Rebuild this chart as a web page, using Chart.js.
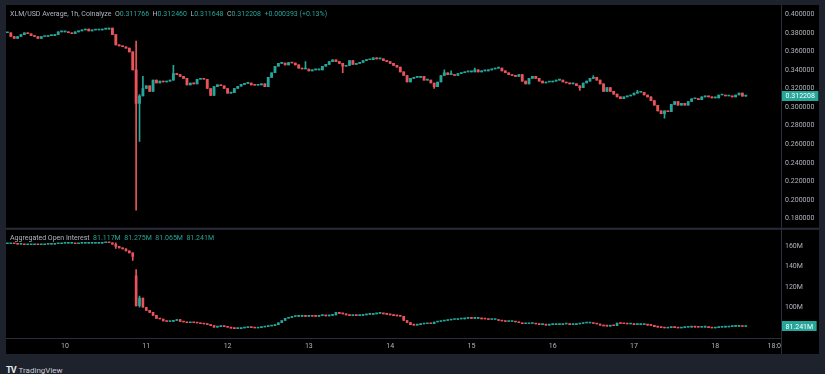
<!DOCTYPE html>
<html>
<head>
<meta charset="utf-8">
<script src="https://cdn.jsdelivr.net/npm/chart.js@4.4.0/dist/chart.umd.min.js"></script>
<style>
    html, body { margin: 0; padding: 0; width: 825px; height: 374px; overflow: hidden; background: #1e222d; }
    #pane { position: absolute; left: 6px; top: 5px; width: 813px; height: 349px; background: #000; }
    #logo { position: absolute; left: 6px; top: 358px; font-family: Roboto, sans-serif; color: #c9ccd4; white-space: nowrap; }
    #logo b { font-size: 9px; color: #e6e8ee; letter-spacing: -1px; margin-right: 3px; }
    #logo span { font-size: 8px; }
</style>
</head>
<body>
<div id="pane"><canvas id="chart" width="813" height="349"></canvas></div>
<div id="logo"><b>TV</b><span>TradingView</span></div>
<script>
// Hours are counted from the 10th, 00:00; first candle is 17h earlier
const FIRST_HOUR = -17;

// XLM/USD hourly closes (opens = previous close)
const priceClose = [
    0.380, 0.376, 0.374, 0.376, 0.378, 0.380, 0.379, 0.377, 0.376, 0.374, 0.376, 0.376, 0.377, 0.377, 0.378, 0.381, 0.381,
    // 10th
    0.381, 0.380, 0.379, 0.381, 0.382, 0.383, 0.384, 0.382, 0.383, 0.383, 0.383, 0.384,
    0.384, 0.385, 0.378, 0.367, 0.366, 0.365, 0.3635, 0.3595, 0.340, 0.304, 0.312, 0.320,
    // 11th
    0.323, 0.317, 0.329, 0.326, 0.328, 0.327, 0.328, 0.329, 0.336, 0.335, 0.333, 0.331,
    0.324, 0.326, 0.325, 0.330, 0.331, 0.330, 0.320, 0.3125, 0.322, 0.324, 0.323, 0.320,
    // 12th
    0.315, 0.3155, 0.320, 0.3225, 0.3245, 0.3255, 0.326, 0.324, 0.3235, 0.324, 0.325, 0.322,
    0.332, 0.337, 0.344, 0.347, 0.3475, 0.3455, 0.348, 0.3475, 0.3455, 0.342, 0.341, 0.341,
    // 13th
    0.339, 0.340, 0.340, 0.340, 0.344, 0.346, 0.349, 0.351, 0.349, 0.347, 0.344, 0.345,
    0.350, 0.346, 0.347, 0.348, 0.350, 0.351, 0.351, 0.353, 0.352, 0.352, 0.350, 0.349,
    // 14th
    0.347, 0.345, 0.343, 0.338, 0.334, 0.327, 0.331, 0.332, 0.332, 0.333, 0.329, 0.329,
    0.326, 0.322, 0.327, 0.334, 0.337, 0.335, 0.335, 0.334, 0.336, 0.337, 0.338, 0.338,
    // 15th
    0.338, 0.340, 0.338, 0.339, 0.339, 0.340, 0.341, 0.342, 0.342, 0.339, 0.337, 0.335,
    0.334, 0.333, 0.335, 0.328, 0.325, 0.331, 0.333, 0.331, 0.328, 0.326, 0.327, 0.327,
    // 16th
    0.328, 0.329, 0.329, 0.327, 0.326, 0.325, 0.325, 0.323, 0.321, 0.326, 0.328, 0.331,
    0.332, 0.329, 0.325, 0.317, 0.321, 0.317, 0.314, 0.311, 0.309, 0.311, 0.312, 0.313,
    // 17th
    0.315, 0.316, 0.316, 0.313, 0.311, 0.307, 0.302, 0.296, 0.293, 0.296, 0.295, 0.303,
    0.306, 0.302, 0.304, 0.302, 0.306, 0.309, 0.309, 0.308, 0.311, 0.312, 0.311, 0.310,
    // 18th
    0.310, 0.313, 0.313, 0.312, 0.312, 0.311, 0.313, 0.315, 0.311815, 0.312208
];

// [hour, low, high] for candles with visible wicks
const priceWicks = [
    [21, 0.189, 0.371], [22, 0.263, 0.3135], [23, 0.312, 0.333], [32, 0.329, 0.345],
    [71, 0.341, 0.349], [82, 0.337, 0.347], [109, 0.320, 0.326], [112, 0.334, 0.340],
    [114, 0.335, 0.339], [121, 0.338, 0.342], [152, 0.318, 0.323], [156, 0.331, 0.334],
    [169, 0.315, 0.318], [177, 0.288, 0.296], [201, 0.311648, 0.31246]
];

// Aggregated open interest, millions, hourly closes
const oiClose = [
    162.5, 163, 162.5, 162, 162, 161.5, 161.5, 161.5, 162, 161.5, 161.5, 162, 162, 162, 162.5, 162.5, 163,
    // 10th
    163, 163, 163, 162.5, 163, 163, 163, 163, 163, 163, 163, 163.5,
    164, 163.5, 162, 160, 158.5, 157.5, 155.5, 153.5, 150, 101.5, 109, 100,
    // 11th
    97, 95, 92, 89, 88.5, 86.5, 86, 86.2, 87, 88, 86.2, 85.5,
    84.8, 85, 84.8, 84.5, 83.8, 83.5, 83, 82, 80.5, 81, 81.6, 81,
    // 12th
    80.3, 79.5, 79, 79, 79.6, 80, 80.3, 80, 79.6, 80, 80.6, 81,
    81.6, 82, 83, 84.8, 87, 89.2, 90, 90.9, 91, 91, 91.2, 91,
    // 13th
    91.5, 91.2, 91, 91.8, 92, 91.5, 92, 92.5, 95, 94, 93.5, 92.5,
    91.8, 92, 91.8, 92, 92.5, 93, 93, 93.5, 94, 94, 93.5, 93,
    // 14th
    92.5, 91.8, 91.5, 91.2, 87, 85, 82.9, 82.5, 82.9, 83.5, 83.8, 84,
    83.8, 85.5, 86, 86.5, 87, 87.5, 88, 88, 88.5, 88.6, 89, 89.2,
    // 15th
    89, 89, 89, 88.6, 88.5, 88, 88, 88, 87, 86.5, 86, 86,
    86, 85.5, 84.8, 83.8, 83.8, 84, 84, 83.5, 83, 83, 82.5, 83,
    // 16th
    83, 83, 83, 83.5, 83.5, 83, 83, 83.5, 84, 84.5, 84.5, 84.5,
    84, 83.5, 82.5, 81.6, 81.5, 82.2, 81.8, 84.5, 84, 83.8, 83.5, 83.5,
    // 17th
    83, 83, 83, 83, 82.5, 82.2, 81, 80.5, 80, 79.6, 80, 80.6,
    80, 79.6, 80, 80.3, 80.5, 80.6, 80.5, 80.3, 80.5, 80.6, 80, 79.6,
    // 18th
    80, 80.3, 80.5, 80.6, 81, 81.2, 81.2, 81.2, 81.117, 81.241
];
const oiWicks = [[15, 158, 163.5], [20, 146, 153.5], [21, 101, 137], [22, 100, 111], [201, 81.065, 81.275]];
const oiOpenFix = [[21, 131]];

// Axis ticks
const priceTicks = [0.18, 0.20, 0.22, 0.24, 0.26, 0.28, 0.30, 0.32, 0.34, 0.36, 0.38, 0.40];
const oiTicks = [100, 120, 140, 160];
const dayHours = [0, 24, 48, 72, 96, 120, 144, 168, 192, 210];
const dayLabels = ['10', '11', '12', '13', '14', '15', '16', '17', '18', '18:00'];

// Legend texts
const priceTitle = 'XLM/USD Average, 1h, Coinalyze';
const priceOhlc = [['O', '0.311766'], ['H', '0.312460'], ['L', '0.311648'], ['C', '0.312208'], ['', '+0.000393 (+0.13%)']];
const oiTitle = 'Aggregated Open Interest';
const oiOhlc = ['81.117M', '81.275M', '81.065M', '81.241M'];

const UP = '#26a69a';
const DOWN = '#e8545a';
const TEXT = '#b2b5be';
const LINE = '#2a2e39';

Chart.defaults.font.family = 'Roboto, sans-serif';
Chart.defaults.font.size = 7;

/**
 * Turn a list of closes into candle records
 */
function buildCandles(closes, wicks, openFix) {
    return closes.map((c, i) => {
        const h = FIRST_HOUR + i;
        let o = i > 0 ? closes[i - 1] : c;
        const fix = openFix.find(f => f[0] === h);
        if (fix) o = fix[1];
        let lo = Math.min(o, c);
        let hi = Math.max(o, c);
        const w = wicks.find(k => k[0] === h);
        if (w) { lo = w[1]; hi = w[2]; }
        return { h, o, c, lo, hi };
    });
}

function candleColor(list) {
    return ctx => {
        const k = list[ctx.dataIndex];
        return k && k.c >= k.o ? UP : DOWN;
    };
}

function candleDatasets(list, axis, body) {
    return [
        {
            data: list.map(k => ({ x: k.h, y: [k.lo, k.hi] })),
            yAxisID: axis,
            grouped: false,
            barThickness: 1,
            backgroundColor: candleColor(list),
            order: 2
        },
        {
            data: list.map(k => ({ x: k.h, y: [k.o, k.c] })),
            yAxisID: axis,
            grouped: false,
            barThickness: body,
            minBarLength: 1,
            backgroundColor: candleColor(list),
            order: 1
        }
    ];
}

const priceCandles = buildCandles(priceClose, priceWicks, []);
const oiCandles = buildCandles(oiClose, oiWicks, oiOpenFix);

// Pixel scale of the reference: 3.387px per hour, 913.6px per price unit, 1.0417px per 1M OI
const X_MIN = -17.42, X_MAX = 211.4;

function drawLegend(ctx, x, y, parts) {
    parts.forEach(([text, color]) => {
        ctx.fillStyle = color;
        ctx.fillText(text, x, y);
        x += ctx.measureText(text).width;
    });
}

function drawValueTag(ctx, x, y, text) {
    ctx.font = '7px Roboto, sans-serif';
    const w = ctx.measureText(text).width + 7;
    ctx.fillStyle = UP;
    ctx.fillRect(x, Math.round(y) - 5, w, 10);
    ctx.fillStyle = '#ffffff';
    ctx.textAlign = 'left';
    ctx.fillText(text, x + 3.5, y + 0.5);
}

const overlay = {
    id: 'overlay',
    afterDraw(chart) {
        const { ctx, chartArea, scales } = chart;
        ctx.save();

        // the time label past the plot is cut by the price axis
        ctx.fillStyle = '#000';
        ctx.fillRect(chartArea.right + 1, chartArea.bottom + 1, chart.width, chart.height);

        ctx.strokeStyle = LINE;
        ctx.lineWidth = 1;
        ctx.beginPath();
        ctx.moveTo(chartArea.right + 0.5, 0);
        ctx.lineTo(chartArea.right + 0.5, chart.height);
        ctx.stroke();

        // pane separator
        ctx.lineWidth = 2;
        ctx.beginPath();
        ctx.moveTo(0, scales.oi.top);
        ctx.lineTo(chart.width, scales.oi.top);
        ctx.stroke();

        // legends
        ctx.font = '7px Roboto, sans-serif';
        ctx.textBaseline = 'middle';
        ctx.textAlign = 'left';
        const priceParts = [[priceTitle + '  ', TEXT]];
        priceOhlc.forEach(([k, v]) => {
            priceParts.push([k, TEXT]);
            priceParts.push([v + '  ', UP]);
        });
        drawLegend(ctx, 4, 9, priceParts);

        const oiParts = [[oiTitle + '  ', TEXT]];
        oiOhlc.forEach(v => oiParts.push([v + '  ', UP]));
        drawLegend(ctx, 4, scales.oi.top + 9, oiParts);

        // last value tags
        const lastP = priceCandles[priceCandles.length - 1].c;
        const lastOi = oiCandles[oiCandles.length - 1].c;
        drawValueTag(ctx, chartArea.right + 1, scales.y.getPixelForValue(lastP), lastP.toFixed(6));
        drawValueTag(ctx, chartArea.right + 1, scales.oi.getPixelForValue(lastOi), lastOi.toFixed(3) + 'M');

        ctx.restore();
    }
};

function yAxis(min, max, weight, ticks, fmt) {
    return {
        type: 'linear',
        position: 'right',
        stack: 'pane',
        stackWeight: weight,
        bounds: 'data',
        min: min,
        max: max,
        grid: { display: false, drawTicks: false },
        border: { display: true, color: LINE },
        afterBuildTicks: s => { s.ticks = ticks.map(v => ({ value: v })); },
        afterFit: s => { s.width = 38; },
        ticks: { color: TEXT, padding: 4, autoSkip: false, callback: fmt }
    };
}

new Chart(document.getElementById('chart'), {
    type: 'bar',
    data: {
        datasets: [...candleDatasets(priceCandles, 'y', 2.2), ...candleDatasets(oiCandles, 'oi', 2)]
    },
    options: {
        responsive: false,
        animation: false,
        devicePixelRatio: 1,
        layout: { padding: 0 },
        plugins: { legend: { display: false }, tooltip: { enabled: false } },
        scales: {
            x: {
                type: 'linear',
                min: X_MIN,
                max: X_MAX,
                bounds: 'data',
                offset: false,
                grid: { display: false, drawTicks: false, offset: false },
                border: { display: true, color: LINE },
                afterBuildTicks: s => { s.ticks = dayHours.map(v => ({ value: v })); },
                afterFit: s => { s.height = 16; },
                ticks: {
                    color: TEXT,
                    padding: 4,
                    maxRotation: 0,
                    autoSkip: false,
                    callback: (v, i) => dayLabels[i]
                }
            },
            y: yAxis(0.16905, 0.40109, 221, priceTicks, v => v.toFixed(6)),
            oi: yAxis(69.76, 177.28, 112, oiTicks, v => v + 'M')
        }
    },
    plugins: [overlay]
});
</script>
</body>
</html>
